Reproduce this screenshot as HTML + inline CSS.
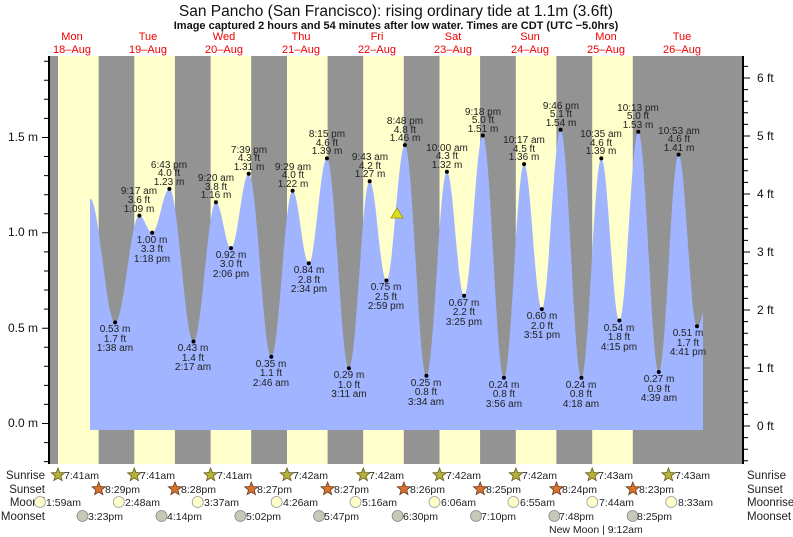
<!DOCTYPE html>
<html><head><meta charset="utf-8"><style>
html,body{margin:0;padding:0;background:#fff;}
svg{display:block;font-family:"Liberation Sans",sans-serif;}
</style></head><body>
<svg width="793" height="537" viewBox="0 0 793 537" xmlns="http://www.w3.org/2000/svg">
<rect x="0" y="0" width="793" height="537" fill="#fff"/>
<text x="396" y="16" font-size="15.5" text-anchor="middle" fill="#111">San Pancho (San Francisco): rising  ordinary tide at 1.1m (3.6ft)</text>
<text x="396" y="29" font-size="11" font-weight="bold" text-anchor="middle" fill="#111">Image captured 2 hours and 54 minutes after low water. Times are CDT (UTC −5.0hrs)</text>
<g font-size="11" fill="#e00" text-anchor="middle">
<text x="72" y="40">Mon</text><text x="72" y="53">18–Aug</text>
<text x="148" y="40">Tue</text><text x="148" y="53">19–Aug</text>
<text x="224" y="40">Wed</text><text x="224" y="53">20–Aug</text>
<text x="301" y="40">Thu</text><text x="301" y="53">21–Aug</text>
<text x="377" y="40">Fri</text><text x="377" y="53">22–Aug</text>
<text x="453" y="40">Sat</text><text x="453" y="53">23–Aug</text>
<text x="530" y="40">Sun</text><text x="530" y="53">24–Aug</text>
<text x="606" y="40">Mon</text><text x="606" y="53">25–Aug</text>
<text x="682" y="40">Tue</text><text x="682" y="53">26–Aug</text>
</g>
<rect x="49" y="56" width="694" height="408" fill="#939393"/>
<g fill="#ffffcc">
<rect x="58" y="56" width="40.6" height="408"/>
<rect x="134.3" y="56" width="40.6" height="408"/>
<rect x="210.6" y="56" width="40.6" height="408"/>
<rect x="287" y="56" width="40.6" height="408"/>
<rect x="363.2" y="56" width="40.6" height="408"/>
<rect x="439.5" y="56" width="40.6" height="408"/>
<rect x="515.8" y="56" width="40.6" height="408"/>
<rect x="592.2" y="56" width="40.6" height="408"/>
</g>
<path fill="#a0b4ff" d="M90,430 L90,198.5 C99.1,198.5 106,322.4 115.1,322.4 C124,322.4 130.5,215.6 139.4,215.6 C144.1,215.6 147.5,232.8 152.2,232.8 C158.5,232.8 163.1,188.9 169.4,188.9 C178.2,188.9 184.7,341.5 193.5,341.5 C201.7,341.5 207.7,202.3 215.9,202.3 C221.4,202.3 225.5,248.1 231,248.1 C237.4,248.1 242.3,173.7 248.7,173.7 C256.9,173.7 263.1,356.8 271.3,356.8 C279.1,356.8 284.8,190.8 292.6,190.8 C298.5,190.8 302.9,263.3 308.8,263.3 C315.4,263.3 320.3,158.4 326.9,158.4 C334.9,158.4 340.9,368.2 348.9,368.2 C356.5,368.2 362.1,181.3 369.7,181.3 C375.8,181.3 380.3,280.5 386.4,280.5 C393.1,280.5 398.2,145.1 404.9,145.1 C412.7,145.1 418.6,375.8 426.4,375.8 C433.9,375.8 439.4,171.8 446.9,171.8 C453.2,171.8 457.8,295.7 464.1,295.7 C470.9,295.7 476,135.5 482.8,135.5 C490.5,135.5 496.2,377.7 503.9,377.7 C511.3,377.7 516.7,164.1 524.1,164.1 C530.5,164.1 535.4,309.1 541.8,309.1 C548.6,309.1 553.8,129.8 560.6,129.8 C568.2,129.8 573.8,377.7 581.4,377.7 C588.6,377.7 594.1,158.4 601.3,158.4 C607.9,158.4 612.8,320.5 619.4,320.5 C626.3,320.5 631.4,131.7 638.3,131.7 C645.8,131.7 651.3,372 658.8,372 C666,372 671.4,154.6 678.6,154.6 C685.3,154.6 690.3,326.2 697,326.2 C700,326.2 702,316 703,312 L703,430 Z"/>
<g fill="#000">
<circle cx="115.1" cy="322.4" r="2"/><circle cx="139.4" cy="215.6" r="2"/><circle cx="152.2" cy="232.8" r="2"/><circle cx="169.4" cy="188.9" r="2"/>
<circle cx="193.5" cy="341.5" r="2"/><circle cx="215.9" cy="202.3" r="2"/><circle cx="231" cy="248.1" r="2"/><circle cx="248.7" cy="173.7" r="2"/>
<circle cx="271.3" cy="356.8" r="2"/><circle cx="292.6" cy="190.8" r="2"/><circle cx="308.8" cy="263.3" r="2"/><circle cx="326.9" cy="158.4" r="2"/>
<circle cx="348.9" cy="368.2" r="2"/><circle cx="369.7" cy="181.3" r="2"/><circle cx="386.4" cy="280.5" r="2"/><circle cx="404.9" cy="145.1" r="2"/>
<circle cx="426.4" cy="375.8" r="2"/><circle cx="446.9" cy="171.8" r="2"/><circle cx="464.1" cy="295.7" r="2"/><circle cx="482.8" cy="135.5" r="2"/>
<circle cx="503.9" cy="377.7" r="2"/><circle cx="524.1" cy="164.1" r="2"/><circle cx="541.8" cy="309.1" r="2"/><circle cx="560.6" cy="129.8" r="2"/>
<circle cx="581.4" cy="377.7" r="2"/><circle cx="601.3" cy="158.4" r="2"/><circle cx="619.4" cy="320.5" r="2"/><circle cx="638.3" cy="131.7" r="2"/>
<circle cx="658.8" cy="372" r="2"/><circle cx="678.6" cy="154.6" r="2"/><circle cx="697" cy="326.2" r="2"/>
</g>
<polygon points="391,218 403,218 397,208" fill="#dddd22" stroke="#999900" stroke-width="0.8"/>
<line x1="49" y1="56" x2="49" y2="464" stroke="#000" stroke-width="2"/>
<line x1="743" y1="56" x2="743" y2="464" stroke="#000" stroke-width="2"/>
<path stroke="#000" stroke-width="1" fill="none" d="M44,461.6H49 M44,442.6H49 M42,423.5H49 M44,404.4H49 M44,385.4H49 M44,366.3H49 M44,347.2H49 M42,328.2H49 M44,309.1H49 M44,290H49 M44,271H49 M44,251.9H49 M42,232.8H49 M44,213.7H49 M44,194.7H49 M44,175.6H49 M44,156.5H49 M42,137.5H49 M44,118.4H49 M44,99.3H49 M44,80.2H49 M44,61.2H49
M743,460.8H748 M743,449.2H748 M743,437.6H748 M743,426H750 M743,414.4H748 M743,402.8H748 M743,391.2H748 M743,379.6H748 M743,368H750 M743,356.4H748 M743,344.8H748 M743,333.2H748 M743,321.6H748 M743,310H750 M743,298.4H748 M743,286.8H748 M743,275.2H748 M743,263.6H748 M743,252H750 M743,240.4H748 M743,228.8H748 M743,217.2H748 M743,205.6H748 M743,194H750 M743,182.4H748 M743,170.8H748 M743,159.2H748 M743,147.6H748 M743,136H750 M743,124.4H748 M743,112.8H748 M743,101.2H748 M743,89.6H748 M743,78H750 M743,66.4H748"/>
<g font-size="12" fill="#111">
<text x="38" y="141" text-anchor="end">1.5 m</text>
<text x="38" y="236" text-anchor="end">1.0 m</text>
<text x="38" y="332" text-anchor="end">0.5 m</text>
<text x="38" y="427" text-anchor="end">0.0 m</text>
<text x="757" y="82">6 ft</text>
<text x="757" y="140">5 ft</text>
<text x="757" y="198">4 ft</text>
<text x="757" y="256">3 ft</text>
<text x="757" y="314">2 ft</text>
<text x="757" y="372">1 ft</text>
<text x="757" y="430">0 ft</text>
</g>
<g font-size="10" fill="#222" text-anchor="middle">
<text x="115" y="332">0.53 m</text><text x="115" y="342">1.7 ft</text><text x="115" y="351">1:38 am</text>
<text x="139" y="194">9:17 am</text><text x="139" y="203">3.6 ft</text><text x="139" y="212">1.09 m</text>
<text x="152" y="243">1.00 m</text><text x="152" y="252">3.3 ft</text><text x="152" y="262">1:18 pm</text>
<text x="169" y="168">6:43 pm</text><text x="169" y="176">4.0 ft</text><text x="169" y="185">1.23 m</text>
<text x="193" y="351">0.43 m</text><text x="193" y="361">1.4 ft</text><text x="193" y="370">2:17 am</text>
<text x="216" y="181">9:20 am</text><text x="216" y="190">3.8 ft</text><text x="216" y="198">1.16 m</text>
<text x="231" y="258">0.92 m</text><text x="231" y="267">3.0 ft</text><text x="231" y="277">2:06 pm</text>
<text x="249" y="153">7:39 pm</text><text x="249" y="161">4.3 ft</text><text x="249" y="170">1.31 m</text>
<text x="271" y="367">0.35 m</text><text x="271" y="376">1.1 ft</text><text x="271" y="386">2:46 am</text>
<text x="293" y="170">9:29 am</text><text x="293" y="178">4.0 ft</text><text x="293" y="187">1.22 m</text>
<text x="309" y="273">0.84 m</text><text x="309" y="283">2.8 ft</text><text x="309" y="292">2:34 pm</text>
<text x="327" y="137">8:15 pm</text><text x="327" y="146">4.6 ft</text><text x="327" y="154">1.39 m</text>
<text x="349" y="378">0.29 m</text><text x="349" y="388">1.0 ft</text><text x="349" y="397">3:11 am</text>
<text x="370" y="160">9:43 am</text><text x="370" y="169">4.2 ft</text><text x="370" y="177">1.27 m</text>
<text x="386" y="290">0.75 m</text><text x="386" y="300">2.5 ft</text><text x="386" y="309">2:59 pm</text>
<text x="405" y="124">8:48 pm</text><text x="405" y="133">4.8 ft</text><text x="405" y="141">1.46 m</text>
<text x="426" y="386">0.25 m</text><text x="426" y="395">0.8 ft</text><text x="426" y="405">3:34 am</text>
<text x="447" y="151">10:00 am</text><text x="447" y="159">4.3 ft</text><text x="447" y="168">1.32 m</text>
<text x="464" y="306">0.67 m</text><text x="464" y="315">2.2 ft</text><text x="464" y="325">3:25 pm</text>
<text x="483" y="115">9:18 pm</text><text x="483" y="123">5.0 ft</text><text x="483" y="132">1.51 m</text>
<text x="504" y="388">0.24 m</text><text x="504" y="397">0.8 ft</text><text x="504" y="407">3:56 am</text>
<text x="524" y="143">10:17 am</text><text x="524" y="152">4.5 ft</text><text x="524" y="160">1.36 m</text>
<text x="542" y="319">0.60 m</text><text x="542" y="329">2.0 ft</text><text x="542" y="338">3:51 pm</text>
<text x="561" y="109">9:46 pm</text><text x="561" y="117">5.1 ft</text><text x="561" y="126">1.54 m</text>
<text x="581" y="388">0.24 m</text><text x="581" y="397">0.8 ft</text><text x="581" y="407">4:18 am</text>
<text x="601" y="137">10:35 am</text><text x="601" y="146">4.6 ft</text><text x="601" y="154">1.39 m</text>
<text x="619" y="331">0.54 m</text><text x="619" y="340">1.8 ft</text><text x="619" y="350">4:15 pm</text>
<text x="638" y="111">10:13 pm</text><text x="638" y="119">5.0 ft</text><text x="638" y="128">1.53 m</text>
<text x="659" y="382">0.27 m</text><text x="659" y="392">0.9 ft</text><text x="659" y="401">4:39 am</text>
<text x="679" y="134">10:53 am</text><text x="679" y="142">4.6 ft</text><text x="679" y="151">1.41 m</text>
<text x="688" y="336">0.51 m</text><text x="688" y="346">1.7 ft</text><text x="688" y="355">4:41 pm</text>
</g>
<g font-size="11.5" fill="#222">
<text x="45" y="479" text-anchor="end">Sunrise</text>
<text x="45" y="493" text-anchor="end">Sunset</text>
<text x="45" y="506" text-anchor="end">Moonri</text>
<text x="45" y="520" text-anchor="end">Moonset</text>
<text x="747" y="479">Sunrise</text>
<text x="747" y="493">Sunset</text>
<text x="747" y="506">Moonrise</text>
<text x="747" y="520">Moonset</text>
</g>
<g fill="#b5b23a" stroke="#6b5a20" stroke-width="0.8">
<polygon transform="translate(58,475)" points="0,-7 1.76,-2.43 6.66,-2.16 2.85,0.93 4.11,5.66 0,3 -4.11,5.66 -2.85,0.93 -6.66,-2.16 -1.76,-2.43"/>
<polygon transform="translate(134.3,475)" points="0,-7 1.76,-2.43 6.66,-2.16 2.85,0.93 4.11,5.66 0,3 -4.11,5.66 -2.85,0.93 -6.66,-2.16 -1.76,-2.43"/>
<polygon transform="translate(210.6,475)" points="0,-7 1.76,-2.43 6.66,-2.16 2.85,0.93 4.11,5.66 0,3 -4.11,5.66 -2.85,0.93 -6.66,-2.16 -1.76,-2.43"/>
<polygon transform="translate(287,475)" points="0,-7 1.76,-2.43 6.66,-2.16 2.85,0.93 4.11,5.66 0,3 -4.11,5.66 -2.85,0.93 -6.66,-2.16 -1.76,-2.43"/>
<polygon transform="translate(363.3,475)" points="0,-7 1.76,-2.43 6.66,-2.16 2.85,0.93 4.11,5.66 0,3 -4.11,5.66 -2.85,0.93 -6.66,-2.16 -1.76,-2.43"/>
<polygon transform="translate(439.6,475)" points="0,-7 1.76,-2.43 6.66,-2.16 2.85,0.93 4.11,5.66 0,3 -4.11,5.66 -2.85,0.93 -6.66,-2.16 -1.76,-2.43"/>
<polygon transform="translate(515.9,475)" points="0,-7 1.76,-2.43 6.66,-2.16 2.85,0.93 4.11,5.66 0,3 -4.11,5.66 -2.85,0.93 -6.66,-2.16 -1.76,-2.43"/>
<polygon transform="translate(592.2,475)" points="0,-7 1.76,-2.43 6.66,-2.16 2.85,0.93 4.11,5.66 0,3 -4.11,5.66 -2.85,0.93 -6.66,-2.16 -1.76,-2.43"/>
<polygon transform="translate(668.5,475)" points="0,-7 1.76,-2.43 6.66,-2.16 2.85,0.93 4.11,5.66 0,3 -4.11,5.66 -2.85,0.93 -6.66,-2.16 -1.76,-2.43"/>
</g>
<g fill="#d9722a" stroke="#6b3a20" stroke-width="0.8">
<polygon transform="translate(98.7,489)" points="0,-7 1.76,-2.43 6.66,-2.16 2.85,0.93 4.11,5.66 0,3 -4.11,5.66 -2.85,0.93 -6.66,-2.16 -1.76,-2.43"/>
<polygon transform="translate(175,489)" points="0,-7 1.76,-2.43 6.66,-2.16 2.85,0.93 4.11,5.66 0,3 -4.11,5.66 -2.85,0.93 -6.66,-2.16 -1.76,-2.43"/>
<polygon transform="translate(251.3,489)" points="0,-7 1.76,-2.43 6.66,-2.16 2.85,0.93 4.11,5.66 0,3 -4.11,5.66 -2.85,0.93 -6.66,-2.16 -1.76,-2.43"/>
<polygon transform="translate(327.6,489)" points="0,-7 1.76,-2.43 6.66,-2.16 2.85,0.93 4.11,5.66 0,3 -4.11,5.66 -2.85,0.93 -6.66,-2.16 -1.76,-2.43"/>
<polygon transform="translate(403.9,489)" points="0,-7 1.76,-2.43 6.66,-2.16 2.85,0.93 4.11,5.66 0,3 -4.11,5.66 -2.85,0.93 -6.66,-2.16 -1.76,-2.43"/>
<polygon transform="translate(480.2,489)" points="0,-7 1.76,-2.43 6.66,-2.16 2.85,0.93 4.11,5.66 0,3 -4.11,5.66 -2.85,0.93 -6.66,-2.16 -1.76,-2.43"/>
<polygon transform="translate(556.5,489)" points="0,-7 1.76,-2.43 6.66,-2.16 2.85,0.93 4.11,5.66 0,3 -4.11,5.66 -2.85,0.93 -6.66,-2.16 -1.76,-2.43"/>
<polygon transform="translate(632.8,489)" points="0,-7 1.76,-2.43 6.66,-2.16 2.85,0.93 4.11,5.66 0,3 -4.11,5.66 -2.85,0.93 -6.66,-2.16 -1.76,-2.43"/>
</g>
<g fill="#ffffcc" stroke="#999" stroke-width="0.8">
<circle cx="39.9" cy="502" r="5.5"/><circle cx="118.8" cy="502" r="5.5"/><circle cx="197.7" cy="502" r="5.5"/><circle cx="276.6" cy="502" r="5.5"/><circle cx="355.5" cy="502" r="5.5"/><circle cx="434.5" cy="502" r="5.5"/><circle cx="513.4" cy="502" r="5.5"/><circle cx="592.3" cy="502" r="5.5"/><circle cx="671.2" cy="502" r="5.5"/>
</g>
<g fill="#c8c8b8" stroke="#888" stroke-width="0.8">
<circle cx="82.5" cy="516" r="5.5"/><circle cx="161.5" cy="516" r="5.5"/><circle cx="240.4" cy="516" r="5.5"/><circle cx="319" cy="516" r="5.5"/><circle cx="397.6" cy="516" r="5.5"/><circle cx="476" cy="516" r="5.5"/><circle cx="554.3" cy="516" r="5.5"/><circle cx="632.6" cy="516" r="5.5"/>
</g>
<g font-size="10.5" fill="#222">
<text x="64" y="479">7:41am</text><text x="140" y="479">7:41am</text><text x="217" y="479">7:41am</text><text x="293" y="479">7:42am</text><text x="369" y="479">7:42am</text><text x="446" y="479">7:42am</text><text x="522" y="479">7:42am</text><text x="598" y="479">7:43am</text><text x="675" y="479">7:43am</text>
<text x="105" y="493">8:29pm</text><text x="181" y="493">8:28pm</text><text x="257" y="493">8:27pm</text><text x="334" y="493">8:27pm</text><text x="410" y="493">8:26pm</text><text x="486" y="493">8:25pm</text><text x="562" y="493">8:24pm</text><text x="639" y="493">8:23pm</text>
<text x="46" y="506">1:59am</text><text x="125" y="506">2:48am</text><text x="204" y="506">3:37am</text><text x="283" y="506">4:26am</text><text x="362" y="506">5:16am</text><text x="441" y="506">6:06am</text><text x="520" y="506">6:55am</text><text x="599" y="506">7:44am</text><text x="678" y="506">8:33am</text>
<text x="88" y="520">3:23pm</text><text x="167" y="520">4:14pm</text><text x="246" y="520">5:02pm</text><text x="324" y="520">5:47pm</text><text x="403" y="520">6:30pm</text><text x="481" y="520">7:10pm</text><text x="559" y="520">7:48pm</text><text x="637" y="520">8:25pm</text>
<text x="549" y="533">New Moon | 9:12am</text>
</g>
</svg>
</body></html>
